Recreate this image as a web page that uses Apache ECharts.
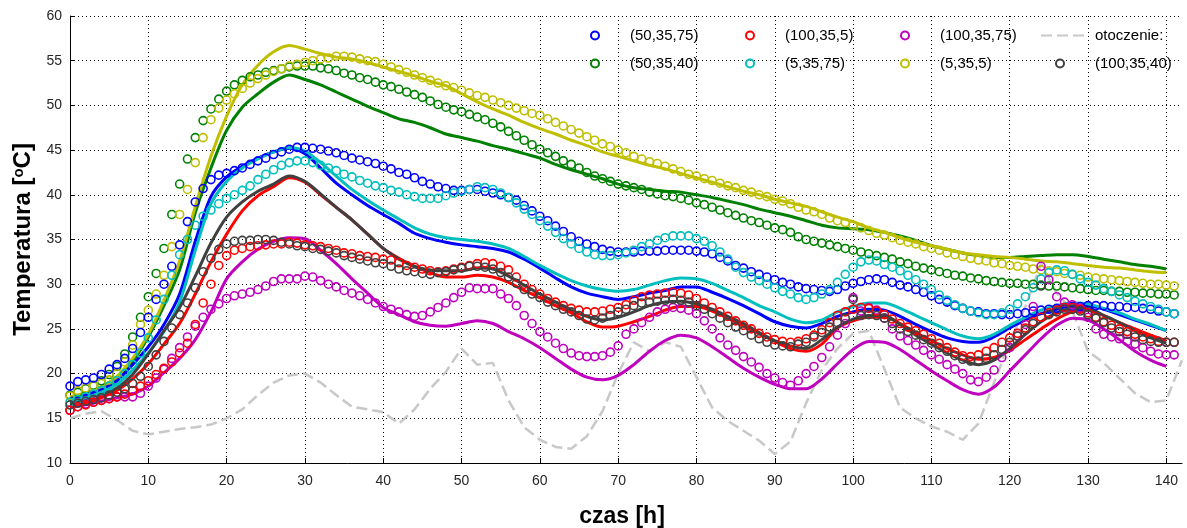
<!DOCTYPE html>
<html>
<head>
<meta charset="utf-8">
<script src="https://cdn.jsdelivr.net/npm/echarts@6/dist/echarts.min.js"></script>
<style>
  html, body { margin: 0; padding: 0; background: #fff; }
  #chart { width: 1187px; height: 528px; }
</style>
</head>
<body>
<div id="chart"></div>
<script>
// Sampling steps (hours) of the stored series
const MEAS_STEP = 1;   // measurements: one value per hour, starting at 0 h
const SIM_STEP = 2;    // simulation curves: one value every 2 h, starting at 0 h
const AMB_STEP = 2;    // ambient air temperature: one value every 2 h

const xTickValues = [0, 10, 20, 30, 40, 50, 60, 70, 80, 90, 100, 110, 120, 130, 140];

// Legend labels (variant parameters)
const labels = ['(50,35,75)', '(100,35,5)', '(100,35,75)', 'otoczenie:',
                '(50,35,40)', '(5,35,75)', '(5,35,5)', '(100,35,40)'];

// ---- measured temperatures, °C (hourly) ----
const meas_50_35_75 = [18.6,19.1,19.3,19.5,19.9,20.5,21.0,21.7,22.8,24.6,
26.3,28.3,30.0,32.0,34.4,37.0,39.2,40.7,41.7,42.2,
42.4,42.7,43.0,43.4,43.8,44.1,44.5,44.8,45.1,45.3,
45.3,45.2,45.1,44.9,44.7,44.4,44.1,43.9,43.7,43.5,
43.2,42.9,42.5,42.3,41.9,41.5,41.2,40.9,40.7,40.5,
40.5,40.6,40.6,40.4,40.2,40.0,39.7,39.4,38.8,38.2,
37.6,37.1,36.5,35.9,35.3,34.8,34.5,34.2,33.9,33.7,
33.6,33.6,33.6,33.7,33.7,33.7,33.8,33.8,33.8,33.8,
33.7,33.6,33.4,33.0,32.6,32.1,31.8,31.4,31.1,30.8,
30.5,30.2,30.0,29.7,29.5,29.4,29.3,29.2,29.4,29.8,
30.1,30.3,30.5,30.6,30.5,30.2,29.9,29.7,29.4,29.1,
28.7,28.3,28.0,27.6,27.3,27.0,26.9,26.7,26.7,26.6,
26.6,26.7,26.8,27.0,27.1,27.2,27.3,27.4,27.5,27.5,
27.6,27.6,27.6,27.5,27.5,27.4,27.4,27.3,27.2,27.0,
26.9,26.7];

const meas_100_35_5 = [15.9,16.3,16.5,16.8,17.0,17.2,17.4,17.7,18.1,18.6,
19.2,19.9,20.6,21.3,22.3,23.4,25.5,27.9,30.0,32.1,
33.2,33.8,34.0,34.2,34.3,34.4,34.5,34.5,34.7,34.6,
34.4,34.3,34.2,34.0,33.8,33.5,33.4,33.2,33.1,33.0,
32.8,32.7,32.4,32.1,31.9,31.7,31.5,31.4,31.5,31.7,
31.9,32.1,32.3,32.4,32.3,32.0,31.6,30.8,30.0,29.4,
28.9,28.4,28.0,27.6,27.3,27.1,26.9,26.9,27.0,27.2,
27.4,27.7,28.2,28.6,28.8,28.9,29.0,29.1,29.0,28.8,
28.4,27.9,27.4,26.9,26.4,25.9,25.4,25.0,24.5,24.1,
23.8,23.6,23.5,23.6,23.9,24.3,24.9,25.7,26.5,26.9,
27.2,27.4,27.3,27.0,26.6,26.1,25.6,25.2,24.8,24.4,
23.9,23.4,22.9,22.4,22.0,21.9,22.1,22.5,22.9,23.5,
24.0,24.5,25.1,25.8,26.3,26.8,27.1,27.4,27.4,27.2,
26.8,26.3,25.8,25.4,25.0,24.7,24.4,24.1,23.9,23.6,
23.5,23.5];

const meas_100_35_75 = [15.9,16.3,16.6,16.8,17.0,17.2,17.4,17.4,17.4,17.8,
18.6,19.5,20.5,21.7,22.9,24.1,25.3,26.3,27.2,27.8,
28.4,28.7,28.9,29.1,29.4,29.8,30.3,30.6,30.6,30.6,
30.9,30.8,30.4,30.0,29.7,29.3,29.0,28.7,28.3,27.9,
27.5,27.2,26.9,26.6,26.4,26.5,26.9,27.4,27.9,28.5,
29.1,29.6,29.5,29.5,29.5,28.9,28.4,27.6,26.5,25.6,
24.7,24.1,23.4,22.8,22.3,22.0,21.9,21.9,22.0,22.4,
23.1,24.4,25.0,25.7,26.3,26.9,27.2,27.4,27.3,27.1,
26.7,25.9,25.0,24.0,23.2,22.6,21.9,21.3,20.7,20.0,
19.5,19.0,18.7,19.2,20.0,20.8,21.8,23.0,24.3,25.6,
28.5,27.0,27.4,27.1,26.2,25.0,24.2,23.7,23.2,22.6,
22.1,21.6,21.0,20.5,20.0,19.3,19.1,19.6,20.4,21.8,
22.9,24.2,25.5,27.5,32.0,30.5,28.6,28.0,27.7,27.3,
26.3,25.0,24.4,24.1,23.9,23.6,23.3,22.9,22.5,22.2,
22.1,22.1];

const meas_50_35_40 = [17.6,17.9,18.3,18.7,19.2,19.9,20.8,22.2,24.1,26.3,
28.6,31.2,34.0,37.8,41.2,44.0,46.4,48.3,49.6,50.7,
51.6,52.3,52.8,53.2,53.4,53.7,53.9,54.1,54.3,54.4,
54.4,54.4,54.2,54.1,53.9,53.6,53.4,53.1,52.9,52.6,
52.3,52.1,51.8,51.5,51.2,50.9,50.5,50.1,49.8,49.5,
49.3,49.0,48.7,48.4,48.0,47.6,47.1,46.6,46.1,45.6,
45.1,44.7,44.3,43.8,43.4,43.0,42.5,42.1,41.8,41.5,
41.2,41.0,40.8,40.6,40.3,40.1,39.9,39.8,39.6,39.4,
39.1,38.9,38.6,38.3,38.0,37.7,37.4,37.1,36.9,36.6,
36.3,36.1,35.8,35.3,35.0,34.8,34.6,34.4,34.2,34.0,
33.8,33.6,33.4,33.2,33.0,32.8,32.5,32.3,32.0,31.8,
31.6,31.4,31.2,31.0,30.9,30.7,30.6,30.4,30.3,30.2,
30.1,30.1,30.0,30.0,29.9,29.8,29.8,29.7,29.6,29.5,
29.4,29.3,29.3,29.2,29.2,29.1,29.1,29.0,29.0,28.9,
28.9,28.8];

const meas_5_35_75 = [16.8,17.1,17.4,17.7,18.1,18.6,19.2,20.0,21.0,22.3,
24.0,26.0,28.3,31.0,33.3,35.0,36.6,37.6,38.3,39.0,
39.6,40.0,40.5,41.0,41.7,42.3,42.8,43.3,43.6,43.8,
43.8,43.6,43.3,43.0,42.7,42.3,42.0,41.6,41.3,41.0,
40.8,40.5,40.3,40.0,39.8,39.6,39.6,39.6,39.9,40.2,
40.4,40.6,40.9,40.8,40.6,40.2,39.7,39.1,38.4,37.8,
37.1,36.5,35.8,35.1,34.5,34.0,33.6,33.3,33.2,33.2,
33.3,33.5,33.8,34.2,34.5,34.9,35.2,35.4,35.4,35.4,
35.1,34.8,34.3,33.6,32.8,31.9,31.3,30.8,30.4,30.0,
29.6,29.2,28.9,28.5,28.3,28.5,28.9,29.4,30.2,31.1,
31.9,32.5,32.7,32.6,32.2,31.9,31.5,31.0,30.5,30.0,
29.4,28.8,28.2,27.7,27.3,27.0,26.8,26.6,26.6,26.8,
27.2,27.8,28.6,29.6,30.6,31.3,31.6,31.5,31.1,30.6,
30.2,29.9,29.5,29.2,28.8,28.5,28.1,27.8,27.5,27.2,
26.9,26.7];

const meas_5_35_5 = [17.5,18.1,18.4,18.6,18.9,19.3,20.0,21.3,23.2,25.5,
27.1,28.9,31.0,34.2,37.8,40.6,43.6,46.4,48.4,49.7,
50.6,51.3,51.9,52.5,53.0,53.4,53.8,54.1,54.4,54.6,
54.8,55.0,55.2,55.3,55.5,55.5,55.4,55.2,55.0,54.9,
54.6,54.3,54.0,53.7,53.4,53.1,52.8,52.5,52.2,52.0,
51.7,51.4,51.1,50.9,50.6,50.3,50.0,49.7,49.4,49.1,
48.9,48.5,48.1,47.7,47.3,46.9,46.5,46.1,45.7,45.4,
45.0,44.7,44.3,44.0,43.7,43.5,43.2,42.9,42.6,42.3,
42.1,41.8,41.6,41.3,41.0,40.8,40.5,40.3,40.0,39.8,
39.5,39.3,39.0,38.6,38.3,38.1,37.8,37.4,37.1,36.9,
36.6,36.3,36.0,35.7,35.5,35.2,34.9,34.7,34.5,34.2,
34.0,33.8,33.5,33.3,33.1,32.9,32.7,32.6,32.4,32.3,
32.1,32.0,31.9,31.7,31.6,31.5,31.4,31.2,31.1,31.0,
30.8,30.7,30.6,30.5,30.4,30.3,30.2,30.1,30.0,30.0,
29.9,29.8];

const meas_100_35_40 = [16.5,16.7,16.9,17.1,17.3,17.6,17.9,18.3,18.9,19.7,
20.8,22.1,23.6,25.1,26.6,27.9,29.6,31.4,32.9,33.9,
34.5,34.8,34.9,34.9,35.0,35.0,34.9,34.7,34.5,34.3,
34.2,34.0,33.9,33.7,33.5,33.2,33.0,32.8,32.6,32.4,
32.3,32.0,31.7,31.5,31.4,31.2,31.1,31.3,31.4,31.6,
31.8,32.0,32.0,31.9,31.7,31.3,30.8,30.1,29.4,28.9,
28.5,28.0,27.6,27.2,26.9,26.5,26.1,26.0,26.2,26.5,
26.9,27.2,27.6,27.9,28.0,28.1,28.2,28.3,28.2,28.0,
27.6,27.2,26.7,26.2,25.7,25.2,24.8,24.3,23.9,23.5,
23.2,23.1,23.0,23.3,23.5,24.1,24.6,25.2,25.7,26.2,
28.3,26.5,26.6,26.5,26.2,25.6,25.0,24.7,24.3,23.8,
23.4,22.9,22.5,22.0,21.6,21.4,21.4,21.7,22.1,22.7,
23.5,24.2,24.9,25.6,29.8,26.6,26.9,27.2,27.2,27.0,
26.6,26.2,25.7,25.1,24.7,24.4,24.1,23.8,23.6,23.5,
23.5,23.5];

// ---- simulated temperatures, °C (every 2 h) ----
const sim_50_35_75 = [17.2,17.6,18.2,19.2,21.0,23.0,25.5,28.9,34.8,39.8,
42.0,43.2,44.1,44.8,45.2,44.6,43.0,41.3,40.0,38.8,
37.8,36.8,35.7,35.1,34.7,34.4,34.2,34.0,33.6,32.8,
31.8,30.7,29.7,29.0,28.6,28.3,28.6,29.0,29.3,29.7,
29.7,29.1,28.4,27.6,26.7,25.8,25.3,25.1,25.6,26.4,
26.9,27.2,27.1,26.4,25.5,24.7,24.0,23.6,23.5,24.1,
25.1,26.0,26.7,27.2,27.6,27.6,27.2,26.6,26.0,25.4,
24.8];

const sim_100_35_5 = [16.3,16.7,17.3,18.1,19.4,21.1,23.3,25.6,28.9,32.5,
35.6,38.2,39.9,40.9,41.9,41.4,40.0,38.6,37.2,35.6,
34.0,32.9,32.0,31.3,30.8,30.8,31.0,30.8,30.2,29.3,
28.5,27.6,26.8,25.8,25.2,25.3,25.8,26.4,27.1,27.5,
27.5,27.0,26.2,25.3,24.5,23.6,22.8,22.5,23.3,25.1,
25.9,26.3,26.3,25.6,24.6,23.7,22.8,22.1,21.6,21.8,
22.6,23.8,25.0,26.1,26.9,27.1,26.5,25.7,25.0,24.3,
23.7];

const sim_100_35_75 = [16.2,16.5,16.9,17.3,17.7,18.6,20.1,21.7,23.8,26.9,
30.6,32.5,33.9,34.8,35.2,35.1,33.8,32.3,30.6,29.0,
27.4,26.6,25.8,25.4,25.3,25.6,25.9,25.6,24.7,23.9,
22.9,21.7,20.5,19.6,19.3,19.8,21.0,22.5,23.7,24.3,
24.0,23.0,21.8,20.6,19.6,18.8,18.3,18.3,19.4,21.1,
22.7,23.6,23.5,22.7,21.5,20.3,19.2,18.2,17.7,18.5,
20.3,22.1,23.9,25.4,26.2,26.0,25.0,23.8,22.5,21.5,
20.8];

const sim_50_35_40 = [17.3,17.8,18.5,19.6,21.4,24.1,27.6,31.6,38.0,43.0,
47.2,49.8,51.3,52.6,53.4,52.9,52.3,51.5,50.7,49.9,
49.2,48.5,48.1,47.5,46.8,46.4,46.0,45.5,45.1,44.6,
44.1,43.4,42.8,42.3,41.8,41.2,40.8,40.6,40.4,40.3,
40.0,39.7,39.3,38.9,38.4,38.0,37.6,37.1,36.6,36.3,
36.2,36.1,35.8,35.4,34.9,34.3,33.9,33.5,33.2,33.0,
33.0,33.1,33.2,33.3,33.3,33.1,32.8,32.5,32.2,32.0,
31.7];

const sim_5_35_75 = [16.9,17.3,17.9,18.8,20.4,22.3,24.7,28.0,33.8,39.0,
41.5,43.0,44.0,44.8,45.3,44.9,43.6,42.1,40.6,39.4,
38.3,37.3,36.3,35.6,35.2,35.0,34.8,34.5,34.0,33.1,
32.1,31.2,30.4,29.8,29.4,29.2,29.4,29.9,30.4,30.7,
30.6,30.1,29.3,28.5,27.6,26.9,26.1,25.7,26.0,26.9,
27.5,27.9,27.9,27.3,26.5,25.7,24.9,24.2,23.9,24.4,
25.4,26.3,27.1,27.6,27.9,27.8,27.3,26.8,26.1,25.5,
24.8];

const sim_5_35_5 = [17.4,17.8,18.5,19.7,21.7,24.4,28.2,32.6,38.7,44.3,
48.8,52.3,54.5,56.0,56.7,56.3,55.8,55.4,55.2,54.8,
54.3,53.8,53.3,52.7,52.2,51.3,50.4,49.6,48.9,48.1,
47.4,46.8,46.1,45.5,44.8,44.3,43.8,43.3,42.9,42.4,
41.9,41.4,40.9,40.4,40.0,39.5,39.1,38.7,38.1,37.5,
37.0,36.3,35.8,35.2,34.7,34.3,33.9,33.5,33.3,33.1,
33.0,32.8,32.6,32.5,32.3,32.1,31.9,31.8,31.6,31.4,
31.3];

const sim_100_35_40 = [16.6,17.0,17.6,18.4,19.9,22.2,24.8,27.4,30.9,34.6,
37.5,39.2,40.4,41.2,42.1,41.5,40.1,38.6,37.2,35.6,
34.0,32.8,32.0,31.6,31.5,31.5,31.8,31.7,30.9,29.9,
28.9,28.0,27.1,26.4,26.0,26.3,26.9,27.6,28.0,28.1,
27.8,27.2,26.4,25.6,24.6,23.7,23.1,22.8,23.8,25.2,
26.1,26.5,26.5,25.5,24.3,23.3,22.3,21.5,21.0,21.5,
22.8,24.4,25.8,26.8,27.3,27.3,26.5,25.7,24.8,24.0,
23.4];

// ---- ambient air temperature, °C (every 2 h) ----
const ambient = [15.0,15.5,15.8,14.8,13.6,13.2,13.5,13.8,14.0,14.3,
15.0,16.0,17.6,19.0,19.8,20.0,19.0,17.6,16.3,16.0,
15.7,14.4,16.0,18.3,20.2,22.8,21.0,21.2,17.0,14.0,
12.6,11.8,11.6,13.0,15.8,20.0,23.5,22.5,23.5,23.0,
19.6,16.2,14.7,13.6,12.5,11.0,12.4,16.7,20.4,22.8,
24.5,24.8,20.5,16.2,15.0,14.1,13.5,12.6,14.4,19.0,
23.5,27.5,32.3,29.0,27.0,22.5,21.2,19.5,17.8,16.8,
17.0,21.5];

// Variants: legend label, colour, measured and simulated series (drawing order)
const variants = [
  { label: labels[4], color: '#008000', meas: meas_50_35_40,  sim: sim_50_35_40 },
  { label: labels[6], color: '#bfbf00', meas: meas_5_35_5,    sim: sim_5_35_5 },
  { label: labels[0], color: '#0000ff', meas: meas_50_35_75,  sim: sim_50_35_75 },
  { label: labels[5], color: '#00bfbf', meas: meas_5_35_75,   sim: sim_5_35_75 },
  { label: labels[2], color: '#bf00bf', meas: meas_100_35_75, sim: sim_100_35_75 },
  { label: labels[1], color: '#ff0000', meas: meas_100_35_5,  sim: sim_100_35_5 },
  { label: labels[7], color: '#404040', meas: meas_100_35_40, sim: sim_100_35_40 }
];

const toPairs = (values, step) => values.map((v, i) => [i * step, v]);

const TEXT_FONT = "'Liberation Sans', Arial, Helvetica, sans-serif";

const series = [{
  name: labels[3],
  type: 'line',
  data: toPairs(ambient, AMB_STEP),
  symbol: 'none',
  lineStyle: { color: '#c8c8c8', width: 2.5, type: [11, 5] },
  itemStyle: { color: '#c8c8c8' },
  z: 1
}];

variants.forEach(v => {
  series.push({
    name: v.label + ' sym',
    type: 'line',
    data: toPairs(v.sim, SIM_STEP),
    symbol: 'none',
    smooth: 0.3,
    lineStyle: { color: v.color, width: 3 },
    itemStyle: { color: v.color },
    z: 2
  });
  series.push({
    name: v.label,
    type: 'scatter',
    data: toPairs(v.meas, MEAS_STEP),
    symbol: 'circle',
    symbolSize: 8,
    itemStyle: { color: 'rgba(255,255,255,0)', borderColor: v.color, borderWidth: 1.6, opacity: 1 },
    z: 3
  });
});

// Legend: two rows of four entries, each entry placed in its own column
const legendCols = [594, 749, 904, 1059];   // marker centres (px)
const legendRows = [28, 56];                // entry tops (px)
const legendOrder = [labels[0], labels[1], labels[2], labels[3],
                     labels[4], labels[5], labels[6], labels[7]];
const legends = legendOrder.map((name, i) => {
  const col = i % 4, row = Math.floor(i / 4);
  const isLine = name === labels[3];
  const base = {
    data: [isLine ? { name: name, itemStyle: { opacity: 0 } } : name],
    top: legendRows[row],
    padding: 0,
    itemHeight: 8,
    selectedMode: false,
    textStyle: { fontSize: 15, color: '#000', fontFamily: TEXT_FONT }
  };
  if (isLine) {
    return Object.assign(base, {
      left: 1040, itemWidth: 44,
      textStyle: Object.assign({}, base.textStyle, { padding: [0, 0, 0, 5] })
    });
  }
  return Object.assign(base, {
    left: legendCols[col] - 4, itemWidth: 8,
    textStyle: Object.assign({}, base.textStyle, { padding: [0, 0, 0, 26] })
  });
});

const chart = echarts.init(document.getElementById('chart'), null, { renderer: 'canvas' });
chart.setOption({
  animation: false,
  backgroundColor: '#ffffff',
  grid: { left: 70, right: 5, top: 16, bottom: 65, containLabel: false, outerBoundsMode: 'none' },
  legend: legends,
  xAxis: {
    type: 'value',
    min: 0,
    max: 142,
    interval: 10,
    name: 'czas [h]',
    nameLocation: 'middle',
    nameGap: 42,
    nameTextStyle: { fontSize: 23, fontWeight: 'bold', color: '#000', fontFamily: TEXT_FONT, padding: [0, 8, 0, 0] },
    axisLine: { lineStyle: { color: '#000', width: 1 } },
    axisTick: { inside: true, length: 5, lineStyle: { color: '#000' }, customValues: xTickValues },
    axisLabel: { customValues: xTickValues, color: '#262626', fontSize: 14, margin: 11, fontFamily: TEXT_FONT },
    splitLine: { show: true, lineStyle: { color: '#000', width: 1, type: [1, 3] } }
  },
  yAxis: {
    type: 'value',
    min: 10,
    max: 60,
    interval: 5,
    name: 'Temperatura [{sup|o}C]',
    nameLocation: 'middle',
    nameGap: 32,
    nameRotate: 90,
    nameTextStyle: {
      fontSize: 24, fontWeight: 'bold', color: '#000', fontFamily: TEXT_FONT,
      rich: { sup: { fontSize: 15, fontWeight: 'bold', color: '#000', fontFamily: TEXT_FONT, verticalAlign: 'top' } }
    },
    axisLine: { show: true, lineStyle: { color: '#000', width: 1 } },
    axisTick: { show: true, inside: true, length: 5, lineStyle: { color: '#000' } },
    axisLabel: { color: '#262626', fontSize: 14, margin: 8, fontFamily: TEXT_FONT },
    splitLine: { show: true, lineStyle: { color: '#000', width: 1, type: [1, 3] } }
  },
  series: series
});
</script>
</body>
</html>
